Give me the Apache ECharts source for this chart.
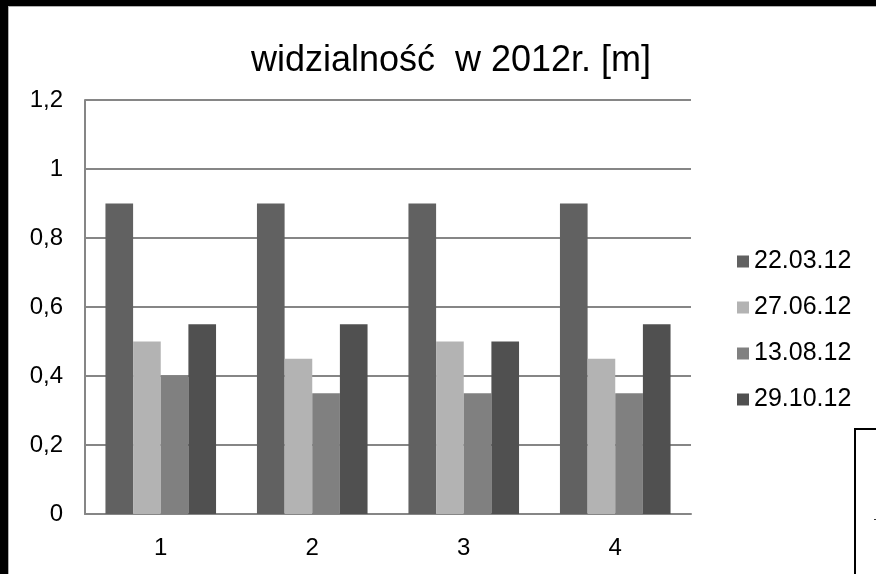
<!DOCTYPE html>
<html>
<head>
<meta charset="utf-8">
<script src="https://cdn.jsdelivr.net/npm/echarts@6/dist/echarts.min.js"></script>
<style>
  html, body { margin: 0; padding: 0; background: #ffffff; }
  #chart { width: 876px; height: 574px; }
</style>
</head>
<body>
<div id="chart"></div>
<script>
// Visibility measurements per station, one series per survey date
const categories = ['1', '2', '3', '4'];
const seriesNames = ['22.03.12', '27.06.12', '13.08.12', '29.10.12'];
const march = [0.9, 0.9, 0.9, 0.9];
const june = [0.5, 0.45, 0.5, 0.45];
const august = [0.4, 0.35, 0.35, 0.35];
const october = [0.55, 0.55, 0.5, 0.55];
const yTickValues = [0, 0.2, 0.4, 0.6, 0.8, 1, 1.2];
const yTickLabels = ['0', '0,2', '0,4', '0,6', '0,8', '1', '1,2'];

const seriesColors = ['#616161', '#b3b3b3', '#808080', '#505050'];
const seriesData = [march, june, august, october];
const FONT = 'Liberation Sans, Arial, sans-serif';

const chart = echarts.init(document.getElementById('chart'), null, { renderer: 'canvas' });

chart.setOption({
  backgroundColor: '#ffffff',
  animation: false,
  color: seriesColors,
  title: {
    text: 'widzialność  w 2012r. [m]',
    left: 446,
    textAlign: 'center',
    top: 38,
    textStyle: { fontFamily: FONT, fontSize: 36, fontWeight: 'normal', color: '#000000' }
  },
  legend: {
    orient: 'vertical',
    left: 732,
    top: 244,
    itemWidth: 12,
    itemHeight: 12,
    itemGap: 21,
    icon: 'rect',
    textStyle: { fontFamily: FONT, fontSize: 25, color: '#000000', lineHeight: 25 },
    data: seriesNames
  },
  grid: { left: 85, right: 185, top: 100, bottom: 60, containLabel: false },
  xAxis: {
    type: 'category',
    data: categories,
    axisLine: { lineStyle: { color: '#868686', width: 2 } },
    axisTick: { show: false },
    axisLabel: { fontFamily: FONT, fontSize: 24, color: '#000000', margin: 22 }
  },
  yAxis: {
    type: 'value',
    min: 0,
    max: 1.2,
    interval: 0.2,
    axisLine: { show: true, lineStyle: { color: '#868686', width: 2 } },
    axisTick: { show: false },
    splitLine: { lineStyle: { color: '#868686', width: 2 } },
    axisLabel: {
      fontFamily: FONT, fontSize: 24, color: '#000000', margin: 22,
      formatter: function (v) {
        const i = yTickValues.findIndex(t => Math.abs(t - v) < 1e-6);
        return i >= 0 ? yTickLabels[i] : '';
      }
    }
  },
  series: seriesNames.map((name, i) => ({
    name: name,
    type: 'bar',
    data: seriesData[i],
    barGap: '0%',
    barCategoryGap: '27%',
    itemStyle: { color: seriesColors[i] }
  })),
  graphic: [
    // dark frame along the top and left edges
    { type: 'rect', shape: { x: 0, y: 0, width: 876, height: 6 }, style: { fill: '#000000' }, z: 100 },
    { type: 'rect', shape: { x: 0, y: 0, width: 8, height: 574 }, style: { fill: '#000000' }, z: 100 },
    { type: 'line', shape: { x1: 8, y1: 6.5, x2: 876, y2: 6.5 }, style: { stroke: '#b0b0b0', lineWidth: 1 }, z: 100 },
    { type: 'line', shape: { x1: 8.5, y1: 6, x2: 8.5, y2: 574 }, style: { stroke: '#b0b0b0', lineWidth: 1 }, z: 100 },
    // partially visible box in the lower right corner
    { type: 'polyline', shape: { points: [[855, 574], [855, 429], [876, 429]] }, style: { stroke: '#000000', fill: null, lineWidth: 2 }, z: 100 },
    { type: 'rect', shape: { x: 874, y: 519, width: 2, height: 1 }, style: { fill: '#333333' }, z: 100 }
  ]
});
</script>
</body>
</html>
